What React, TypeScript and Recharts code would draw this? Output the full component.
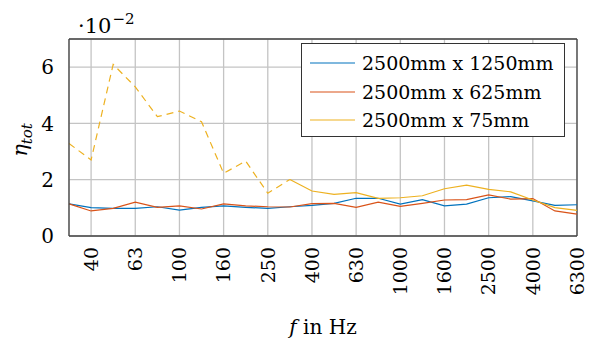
import {
  CartesianGrid,
  Line,
  LineChart,
  ReferenceLine,
  XAxis,
  YAxis,
} from "recharts";

// third-octave band centres (Hz)
const FREQS = [
  "31.5", "40", "50", "63", "80", "100", "125", "160", "200", "250", "315", "400",
  "500", "630", "800", "1000", "1250", "1600", "2000", "2500", "3150", "4000", "5000", "6300",
];
const X_TICKS = ["40", "63", "100", "160", "250", "400", "630", "1000", "1600", "2500", "4000", "6300"];
const Y_TICKS = [0, 2, 4, 6];

// eta_tot, in units of 1e-2
const ETA_1250 = [
  1.14, 1.01, 0.98, 0.98, 1.04, 0.92, 1.02, 1.07, 1.02, 0.98, 1.04, 1.09,
  1.16, 1.34, 1.34, 1.13, 1.29, 1.07, 1.13, 1.36, 1.4, 1.25, 1.09, 1.11,
];
const ETA_625 = [
  1.14, 0.89, 0.98, 1.2, 1.02, 1.07, 0.96, 1.14, 1.07, 1.04, 1.03, 1.15,
  1.16, 1.02, 1.2, 1.05, 1.16, 1.28, 1.29, 1.46, 1.31, 1.33, 0.89, 0.78,
];
const ETA_75 = [
  3.29, 2.7, 6.1, 5.3, 4.24, 4.44, 4.06, 2.23, 2.66, 1.52, 2.01, 1.6,
  1.48, 1.54, 1.34, 1.36, 1.43, 1.68, 1.81, 1.66, 1.57, 1.28, 1.01, 0.91,
];
// the 75mm curve is drawn dashed up to this band
const DASH_END = 10;

const SERIES = [
  { name: "2500mm x 1250mm", color: "#0072BD" },
  { name: "2500mm x 625mm", color: "#D95319" },
  { name: "2500mm x 75mm", color: "#EDB120" },
];

const data = FREQS.map((f, i) => ({
  f,
  a: ETA_1250[i],
  b: ETA_625[i],
  cDash: i <= DASH_END ? ETA_75[i] : null,
  cSolid: i >= DASH_END ? ETA_75[i] : null,
}));

const FONT = "'DejaVu Serif', serif";
const FRAME = "#444";
const GRID = "#c4c4c4";

function XTick({ x, y, payload }: any) {
  return (
    <text
      transform={`translate(${x},${y}) rotate(-90)`}
      textAnchor="end"
      dy="0.36em"
      fontFamily={FONT}
      fontSize={19}
      fill="#000"
    >
      {payload.value}
    </text>
  );
}

function LegendBox() {
  return (
    <div
      style={{
        position: "absolute",
        left: 301,
        top: 43,
        width: 264,
        height: 94,
        boxSizing: "border-box",
        border: "1px solid #333",
        background: "#fff",
        padding: "5px 0 0 8px",
        fontFamily: FONT,
        fontSize: 19,
        lineHeight: "28.5px",
        color: "#000",
      }}
    >
      {SERIES.map((s) => (
        <div key={s.name} style={{ display: "flex", alignItems: "center" }}>
          <svg width={45} height={4} style={{ marginRight: 7 }}>
            <line x1={0} x2={45} y1={2} y2={2} stroke={s.color} strokeWidth={1.2} />
          </svg>
          <span>{s.name}</span>
        </div>
      ))}
    </div>
  );
}

export default function App() {
  return (
    <div style={{ position: "absolute", left: 0, top: 0, width: 589, height: 340, background: "#fff" }}>
      <LineChart width={589} height={340} data={data} margin={{ top: 39, right: 12, bottom: 0, left: 0 }}>
        <CartesianGrid stroke={GRID} strokeWidth={1.3} />
        <XAxis
          dataKey="f"
          ticks={X_TICKS}
          interval={0}
          height={104}
          tick={<XTick />}
          tickSize={0}
          tickMargin={11}
          axisLine={{ stroke: FRAME, strokeWidth: 1.3 }}
          tickLine={false}
          label={{
            content: () => (
              <text x={323} y={334} textAnchor="middle" fontFamily={FONT} fontSize={20} fill="#000">
                <tspan fontStyle="italic">f</tspan> in Hz
              </text>
            ),
          }}
        />
        <YAxis
          domain={[0, 7]}
          ticks={Y_TICKS}
          width={69}
          tickLine={false}
          tickMargin={9}
          tick={{ fontFamily: FONT, fontSize: 20, fill: "#000" }}
          axisLine={{ stroke: FRAME, strokeWidth: 1.3 }}
          label={{
            content: () => (
              <text
                transform="translate(27,140) rotate(-90)"
                textAnchor="middle"
                fontFamily={FONT}
                fontSize={21}
                fontStyle="italic"
                fill="#000"
              >
                η<tspan fontSize={15} dy={5}>tot</tspan>
              </text>
            ),
          }}
        />
        <ReferenceLine y={7} stroke={FRAME} strokeWidth={1.3} />
        <ReferenceLine x="6300" stroke={FRAME} strokeWidth={1.3} />
        <Line dataKey="a" name={SERIES[0].name} stroke={SERIES[0].color} strokeWidth={1.2} dot={false} isAnimationActive={false} />
        <Line dataKey="b" name={SERIES[1].name} stroke={SERIES[1].color} strokeWidth={1.2} dot={false} isAnimationActive={false} />
        <Line
          dataKey="cDash"
          name={SERIES[2].name}
          stroke={SERIES[2].color}
          strokeWidth={1.2}
          strokeDasharray="7 5"
          dot={false}
          isAnimationActive={false}
        />
        <Line dataKey="cSolid" name={SERIES[2].name} stroke={SERIES[2].color} strokeWidth={1.2} dot={false} isAnimationActive={false} />
      </LineChart>
      <LegendBox />
      <div style={{ position: "absolute", left: 78, top: 10, fontFamily: FONT, fontSize: 21, color: "#000" }}>
        ·10<sup style={{ fontSize: 15, verticalAlign: "9px", marginLeft: 1 }}>−2</sup>
      </div>
    </div>
  );
}
